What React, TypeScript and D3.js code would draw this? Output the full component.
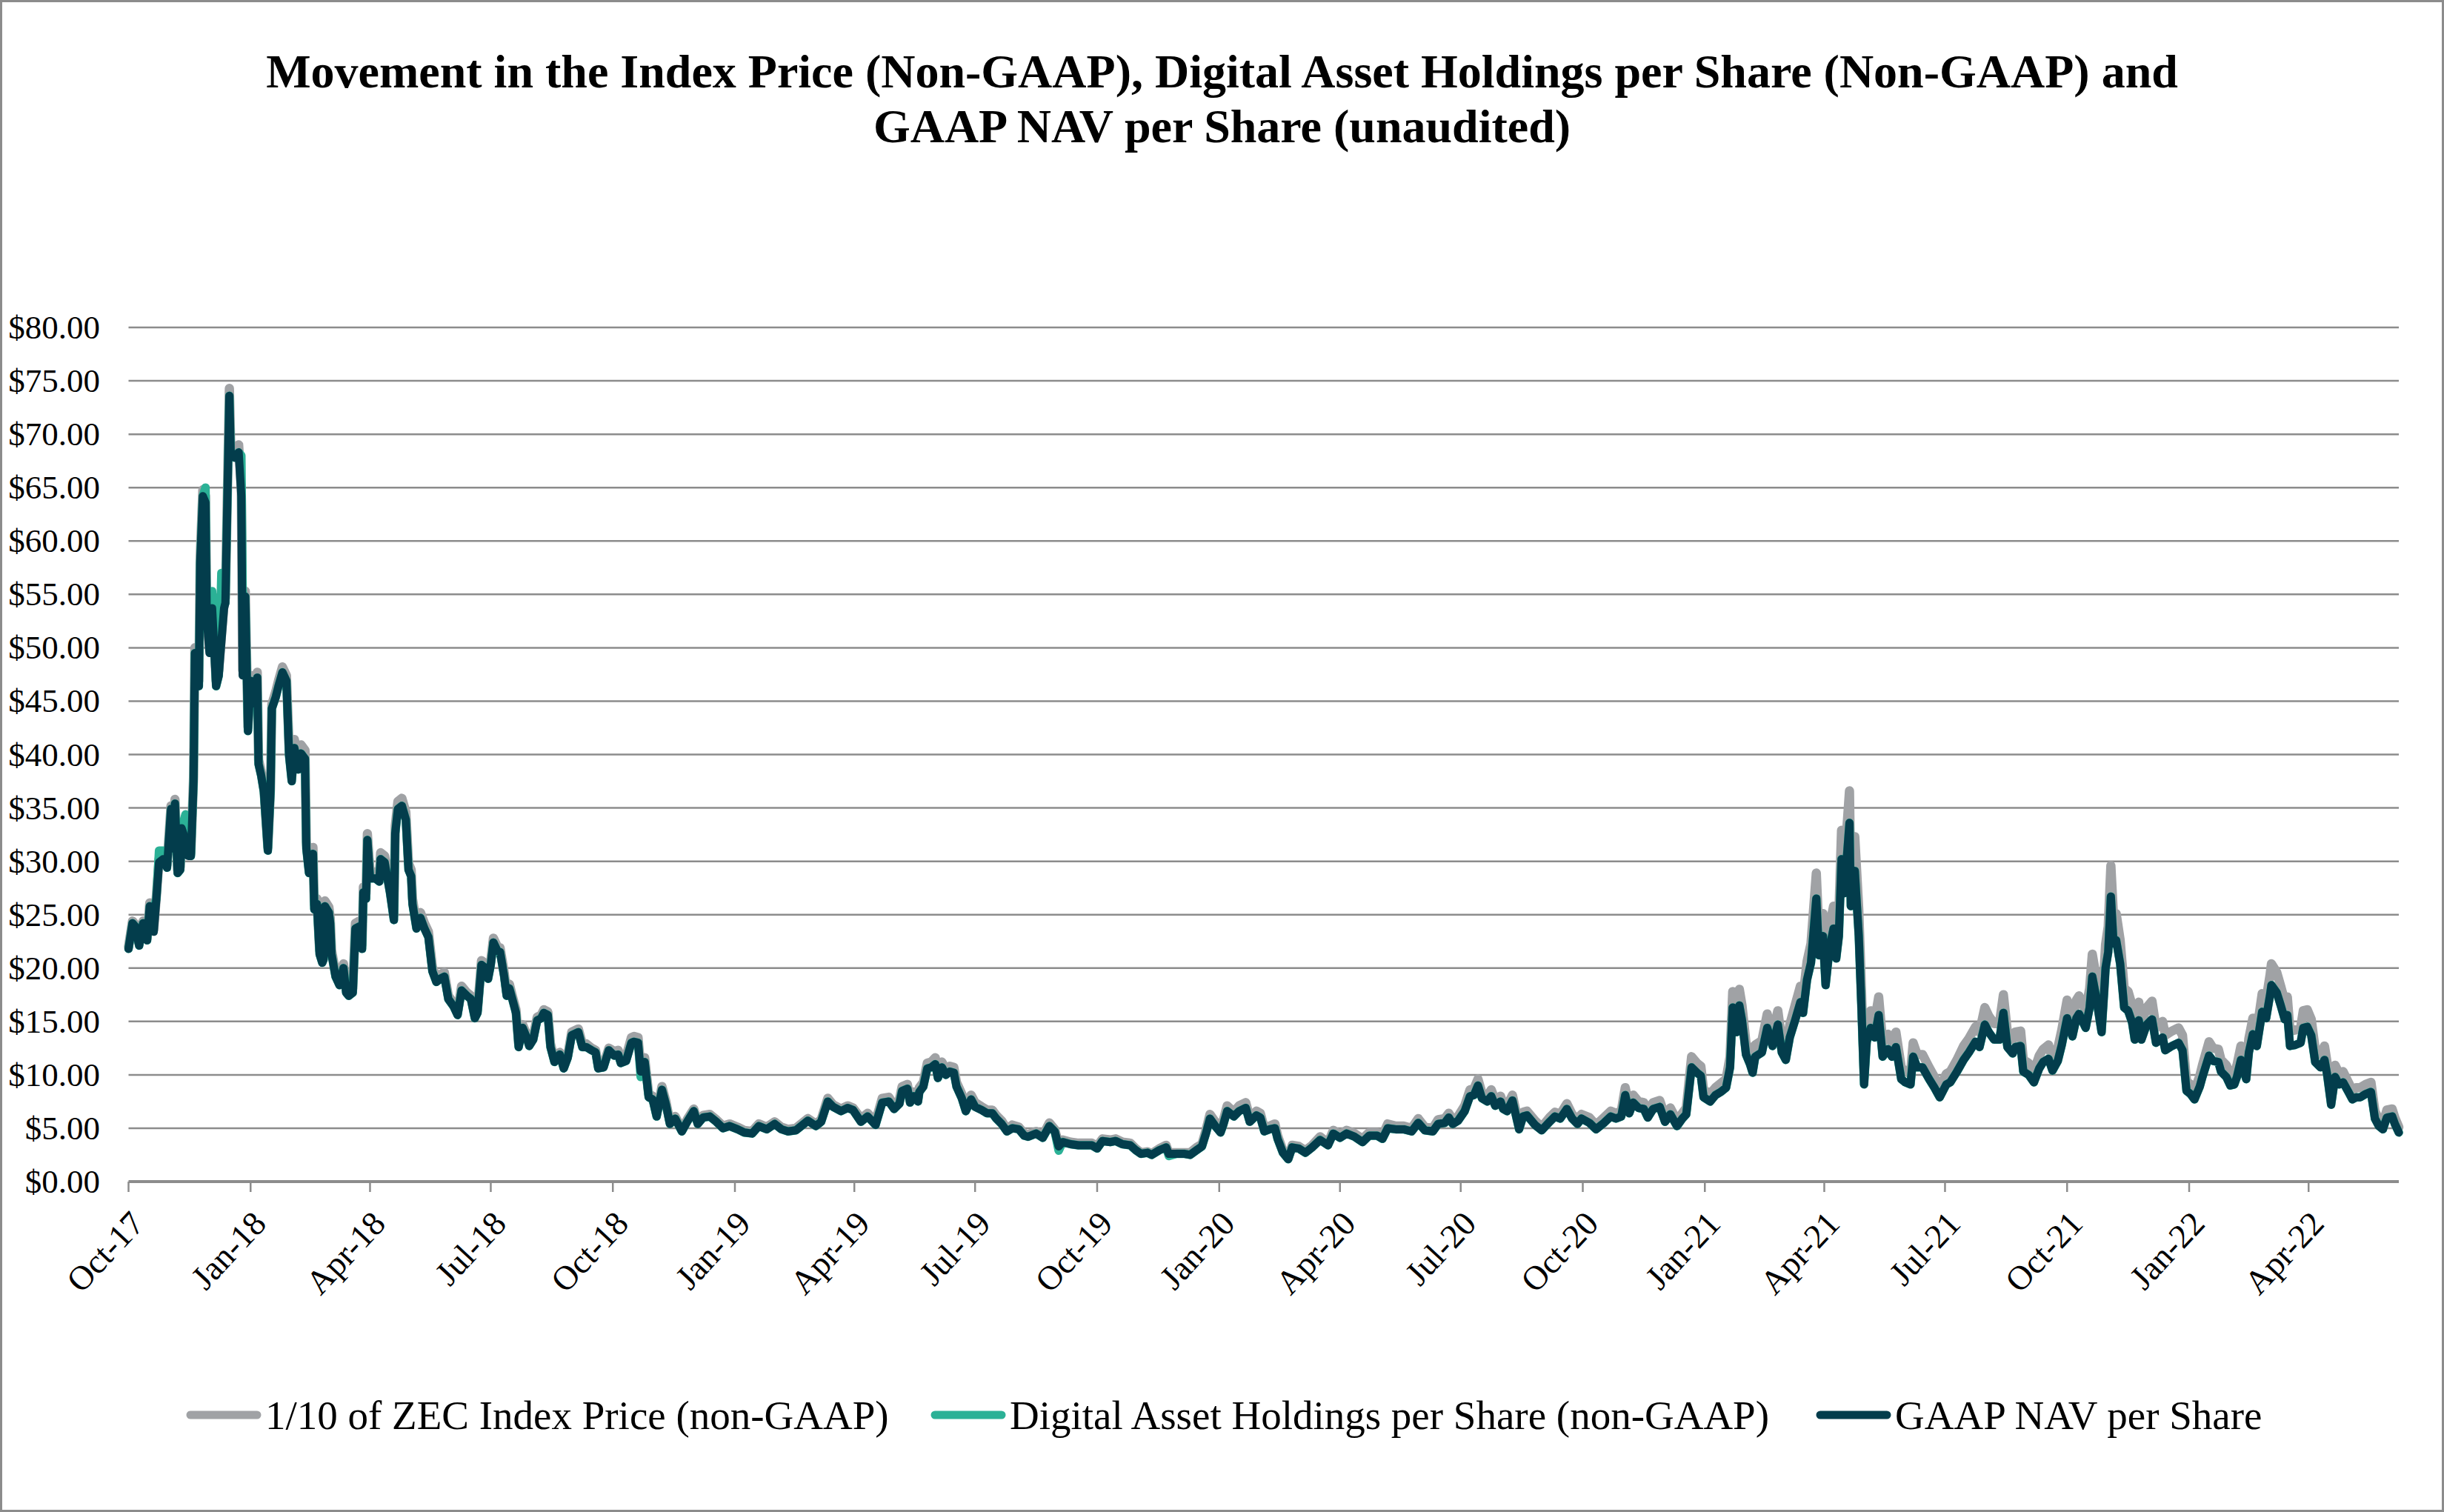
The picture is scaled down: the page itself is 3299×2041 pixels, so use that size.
import React from "react";
import * as d3 from "d3";

// ---------- DATA ----------
// Days elapsed since 2017-10-01 for each observation
const dayOffsets: number[] = [
  0,3,5,8,11,14,16,19,21,23, 26,29,30,32,33,35,37,39,40,43, 45,47,49,50,53,54,56,58,59,61,
  63,66,68,70,72,73,76,77,80,83, 85,86,88,90,92,94,97,98,100,102, 105,107,108,111,113,116,119,121,123,125,
  128,130,133,134,136,139,140,142,144,146, 147,148,151,152,153,156,159,162,164,166, 169,171,174,176,177,179,180,182,186,189,
  190,193,197,200,201,203,206,209,211,213, 214,217,220,223,226,229,232,235,238,241, 245,248,251,255,258,261,263,266,269,271,
  273,275,278,
  280,283,285,287,289,292,294,297,300,302, 305,308,311,313,316,318,321,325,328,331, 334,339,342,345,349,352,354,358,362,366,
  369,371,375,379,381,384,386,389,392,395, 398,402,405,408,412,417,421,426,429,433, 438,443,448,453,459,464,470,475,481,487,
  492,497,503,512,518,522,527,531,537,542, 546,552,557,563,
  568,573,577,581,583,587,589,592,595,596, 599,602,605,608,610,613,616,619,622,624, 628,631,635,638,643,647,651,654,658,662,
  666,671,675,678,684,689,694,698,701,704, 710,716,721,726,730,734,740,744,749,755, 759,763,768,771,777,782,784,790,796,800,
  805,809,812,815,819,823,825,828,833,837, 842,845,850,
  853,856,860,864,866,870,874,877,882,887, 892,898,904,908,913,918,924,930,935,941, 945,949,955,961,967,972,977,983,987,992,
  995,998,1002,1007,1011,1014,1017,1020,1024,1027, 1030,1034,1036,1039,1043,1048,1051,1054,1060,1065,
  1071,1075,1079,1084,1088,1092,1095,1101,1106,1112, 1117,1121,1125,1128,1131,
  1134,1138,1142,1145,1149,1154,1158,1162,1167,1171, 1174,1178,1182,1185,1187,1192,1196,1200,1204,1207,
  1209,1212,1214,1216,1219,1222,1224,1226,1231,1235, 1239,1243,1246,1249,1252,1256,1260,1262,1265,1268,
  1272,1274,1277,1279,1282,1285,1287,1289,1291,1293, 1297,1298,1301,1304,1306,1308,1310,1313,1316,1319,
  1322,1326,1329,1332,1336,1339,1343,1345,1348,1352, 1357,1361,1365,1370,1373,1378,1383,1387,1392,1395,
  1399,1402,1406,1410,1413,1416,1420,
  1422,1426,1428,1432,1436,1440,1443,1447,1450,1454, 1457,1461,1465,1468,1470,1475,1478,1480,1483,1487,
  1489,1490,1492,1494,1496,1498,1501,1504,1507,1510, 1512,1515,1517,1521,1525,1528,1533,1535,1540,1545,
  1548,1551,1554,1557,1561,1563,1568,1571,1575,1577, 1581,1584,1587,1589,1592,1596,1598,1601,1604,1608,
  1611,1614,1615,1619,1622,1625,1627,1629,1633,1637, 1639,1642,1645,1648,1652,1655,1657,1660,1663,1666,
  1669,1673,1676,1679,1682,1686,1690,1693,1696,1699, 1702,1706,1708,1711,
];

// 1/10 of ZEC Index Price (non-GAAP)
const indexPriceTenth: number[] = [
  22.0,24.4,24.1,22.3,24.4,22.8,26.1,23.6,26.8,30.2, 30.5,29.7,31.5,35.2,31.5,35.8,29.2,29.5,33.4,32.3, 30.8,30.8,37.9,50.0,46.9,58.5,64.8,64.2,53.2,50.0,
  54.2,46.9,47.9,51.1,54.2,54.7,74.3,69.0,68.5,69.0, 64.8,47.9,55.3,42.6,47.4,45.2,47.7,39.5,38.4,36.9, 31.3,36.9,44.7,45.9,46.9,48.2,47.4,40.7,38.3,41.4,
  39.4,40.9,40.4,31.8,29.5,31.3,26.0,26.5,21.7,20.9, 21.2,26.3,25.7,24.7,21.7,19.6,18.8,20.4,18.1,17.7, 18.1,24.2,24.4,22.2,27.6,27.0,32.6,29.0,29.0,28.7,
  30.8,30.5,27.6,25.0,33.3,35.6,35.9,34.6,29.8,29.2, 26.5,24.2,25.2,24.2,23.4,20.1,19.1,19.4,19.6,17.4, 16.7,15.9,18.3,17.7,17.4,15.6,16.1,20.7,20.4,19.4,
  20.7,22.8,22.0,
  21.9,19.7,17.7,18.5,17.5,16.1,12.9,14.7,13.8,13.0, 13.6,15.4,15.6,16.1,15.9,12.9,11.4,12.1,10.8,11.8, 14.0,14.3,12.9,12.9,12.5,12.3,10.8,10.9,12.5,12.2,
  12.3,11.5,11.7,13.5,13.6,13.5,10.7,11.6,8.2,8.0, 6.3,8.9,7.5,5.6,6.1,4.9,5.8,6.8,5.6,6.2, 6.3,5.8,5.2,5.4,5.1,4.8,4.7,5.4,5.1,5.6,
  5.1,4.9,5.0,5.9,5.4,5.8,7.8,7.2,6.8,7.1, 6.9,5.9,6.4,5.6,
  7.8,7.9,7.1,7.7,8.9,9.1,7.8,8.4,7.9,8.8, 9.3,11.1,11.2,11.6,10.2,11.2,10.5,10.8,10.7,9.3, 8.2,6.9,8.1,7.4,7.0,6.7,6.7,6.2,5.7,4.9,
  5.3,5.1,4.5,4.4,4.7,4.3,5.5,4.9,3.5,3.9, 3.7,3.6,3.6,3.6,3.3,4.0,3.9,4.0,3.7,3.6, 3.1,2.7,2.8,2.6,3.1,3.4,2.7,2.7,2.7,2.7,
  3.2,3.5,4.8,6.3,5.6,4.9,5.7,7.1,6.5,7.1, 7.4,6.0,6.6,
  6.4,5.0,5.2,5.4,4.3,2.9,2.2,3.4,3.3,2.9, 3.4,4.2,3.6,4.8,4.4,4.8,4.5,4.0,4.6,4.6, 4.3,5.4,5.2,5.2,5.0,5.9,5.1,5.0,5.8,5.9,
  6.4,5.8,6.1,7.1,8.6,8.7,9.6,8.3,8.0,8.6, 7.6,8.0,7.3,7.1,8.1,5.2,6.5,6.6,5.7,5.1,
  6.0,6.5,6.3,7.3,6.3,5.8,6.3,6.0,5.3,6.0, 6.6,6.4,6.6,8.8,7.0,
  8.1,7.5,7.4,6.5,7.4,7.6,6.1,6.9,5.7,6.4, 6.9,11.7,11.1,10.8,8.6,8.2,8.8,9.2,9.6,11.7,
  17.8,15.3,18.0,16.5,13.0,12.0,11.1,12.8,13.2,15.7, 13.8,16.0,13.2,12.4,14.7,16.5,18.3,17.2,20.6,22.3,
  28.9,23.1,25.1,20.1,23.9,25.8,22.8,25.1,32.9,29.4, 36.6,28.1,32.3,25.5,18.1,10.1,14.5,16.0,15.0,17.3,
  13.0,13.8,13.0,14.0,10.7,10.3,10.1,13.0,11.9,11.9, 10.7,9.8,8.8,10.1,10.3,11.4,12.7,13.4,14.5,14.0,
  16.3,15.5,14.8,14.8,17.5,14.0,13.3,
  14.0,14.1,11.4,11.1,10.3,11.8,12.4,12.8,11.5,12.5, 14.2,17.0,15.1,17.0,17.4,16.0,18.1,21.3,19.1,15.5,
  19.9,22.2,23.9,29.6,24.8,25.1,22.6,18.1,17.8,16.5, 14.8,16.8,14.8,16.3,16.9,14.4,15.0,13.7,14.1,14.4,
  13.7,9.4,9.1,8.5,9.9,10.9,13.1,12.5,12.4,11.4, 10.9,10.0,10.1,10.9,12.7,10.7,13.4,15.3,14.1,17.6,
  17.0,19.4,20.4,19.6,18.3,16.9,17.3,14.1,14.2,14.4, 16.0,16.1,15.2,12.4,11.9,12.7,11.1,8.0,10.9,10.1,
  10.3,9.3,8.5,8.8,8.8,9.1,9.3,6.6,5.8,5.4, 6.7,6.8,6.0,5.1,
];

// Digital Asset Holdings per Share (non-GAAP)
const holdingsPerShare: number[] = [
  21.8,24.2,23.9,22.1,24.2,22.6,25.8,25.5,26.5,31.0, 31.0,29.4,31.2,34.9,31.2,35.4,28.9,29.2,33.1,34.4, 33.5,30.5,37.5,49.5,46.4,57.9,64.2,65.0,52.7,54.5,
  55.3,46.4,47.4,57.0,57.0,54.2,73.6,68.3,67.8,68.3, 68.0,55.0,54.8,42.2,46.9,44.8,47.2,39.1,38.0,36.5, 31.0,36.5,44.3,45.4,46.4,47.7,46.9,39.9,37.5,40.6,
  38.6,40.1,39.6,31.2,28.9,30.7,25.5,26.0,21.3,20.5, 20.8,25.8,25.2,24.2,21.3,19.2,18.4,20.0,17.7,17.4, 17.7,23.7,23.9,21.8,27.1,26.5,32.0,28.4,28.4,28.1,
  30.2,29.9,27.1,24.5,32.6,34.9,35.2,33.9,29.2,28.6, 26.0,23.7,24.7,23.7,22.9,19.7,18.7,19.0,19.2,17.1, 16.4,15.6,17.9,17.4,17.1,15.3,15.8,20.3,20.0,19.0,
  20.3,22.4,21.6,
  21.5,19.3,17.4,18.1,17.2,15.8,12.6,14.4,13.5,12.7, 13.3,15.1,15.3,15.8,15.6,12.6,11.2,11.9,10.6,11.6, 13.7,14.0,12.6,12.6,12.3,12.1,10.6,10.7,12.3,11.8,
  11.9,11.1,11.3,13.0,13.1,13.0,9.8,11.2,7.9,7.7, 6.1,8.6,7.2,5.4,5.9,4.7,5.6,6.6,5.4,6.0, 6.1,5.6,5.0,5.2,4.9,4.6,4.5,5.2,4.9,5.4,
  4.9,4.7,4.8,5.7,5.2,5.6,7.5,7.0,6.6,6.9, 6.7,5.6,6.1,5.3,
  7.4,7.5,6.8,7.3,8.5,8.7,7.4,8.0,7.5,8.4, 8.9,10.6,10.7,11.0,9.7,10.7,10.0,10.3,10.2,8.9, 7.8,6.6,7.7,7.0,6.7,6.4,6.4,5.9,5.4,4.7,
  5.0,4.9,4.3,4.2,4.5,4.1,5.2,4.7,2.9,3.7, 3.5,3.4,3.4,3.4,3.1,3.8,3.7,3.8,3.5,3.4, 2.95,2.6,2.7,2.5,2.95,3.2,2.4,2.6,2.6,2.5,
  2.95,3.3,4.5,5.9,5.2,4.6,5.3,6.6,6.1,6.6, 6.9,5.6,6.2,
  6.0,4.7,4.9,5.0,4.0,2.7,2.1,3.2,3.1,2.7, 3.2,3.9,3.4,4.5,4.1,4.5,4.2,3.7,4.3,4.3, 4.0,5.0,4.9,4.9,4.7,5.5,4.8,4.7,5.4,5.5,
  6.0,5.4,5.7,6.6,8.0,8.1,9.0,7.8,7.5,8.0, 7.1,7.5,6.8,6.6,7.6,4.9,6.1,6.2,5.3,4.8,
  5.6,6.1,5.9,6.8,5.9,5.4,5.9,5.5,4.9,5.5, 6.1,5.9,6.1,8.1,6.4,
  7.4,6.9,6.8,6.0,6.8,7.0,5.6,6.3,5.2,5.9, 6.3,10.7,10.2,9.9,7.9,7.5,8.1,8.4,8.8,10.7,
  16.3,14.0,16.5,15.1,11.9,11.0,10.2,11.7,12.1,14.4, 12.7,14.7,12.1,11.4,13.5,15.1,16.8,15.8,18.9,20.5,
  26.5,21.2,23.0,18.4,21.9,23.7,20.9,23.0,30.2,27.0, 33.6,25.8,29.1,23.0,16.3,9.1,13.1,14.4,13.5,15.6,
  11.7,12.4,11.7,12.6,9.6,9.3,9.1,11.7,10.7,10.7, 9.6,8.8,7.9,9.1,9.3,10.3,11.4,12.1,13.1,12.6,
  14.7,14.0,13.3,13.3,15.8,12.6,12.0,
  12.6,12.7,10.3,10.0,9.3,10.6,11.2,11.5,10.4,11.3, 12.8,15.3,13.6,15.3,15.7,14.4,16.3,19.2,17.2,14.0,
  17.9,20.0,21.5,26.7,22.3,22.6,20.4,16.3,16.0,14.9, 13.3,15.1,13.3,14.7,15.2,13.0,13.5,12.3,12.7,13.0,
  12.3,8.5,8.2,7.7,8.9,9.8,11.8,11.3,11.2,10.3, 9.8,9.0,9.1,9.8,11.4,9.6,12.1,13.8,12.7,15.9,
  15.3,17.5,18.4,17.7,16.5,15.2,15.6,12.7,12.8,13.0, 14.4,14.5,13.7,11.2,10.7,11.4,10.0,7.2,9.8,9.1,
  9.3,8.4,7.7,7.9,7.9,8.2,8.4,5.9,5.2,4.9, 6.0,6.1,5.4,4.6,
];

// GAAP NAV per Share
const gaapNavPerShare: number[] = [
  21.8,24.2,23.9,22.1,24.2,22.6,25.8,23.4,26.5,29.9, 30.2,29.4,31.2,34.9,31.2,35.4,28.9,29.2,33.1,32.0, 30.5,30.5,37.5,49.5,46.4,57.9,64.2,63.6,52.7,49.5,
  53.7,46.4,47.4,50.6,53.7,54.2,73.6,68.3,67.8,68.3, 64.2,47.4,54.8,42.2,46.9,44.8,47.2,39.1,38.0,36.5, 31.0,36.5,44.3,45.4,46.4,47.7,46.9,39.9,37.5,40.6,
  38.6,40.1,39.6,31.2,28.9,30.7,25.5,26.0,21.3,20.5, 20.8,25.8,25.2,24.2,21.3,19.2,18.4,20.0,17.7,17.4, 17.7,23.7,23.9,21.8,27.1,26.5,32.0,28.4,28.4,28.1,
  30.2,29.9,27.1,24.5,32.6,34.9,35.2,33.9,29.2,28.6, 26.0,23.7,24.7,23.7,22.9,19.7,18.7,19.0,19.2,17.1, 16.4,15.6,17.9,17.4,17.1,15.3,15.8,20.3,20.0,19.0,
  20.3,22.4,21.6,
  21.5,19.3,17.4,18.1,17.2,15.8,12.6,14.4,13.5,12.7, 13.3,15.1,15.3,15.8,15.6,12.6,11.2,11.9,10.6,11.6, 13.7,14.0,12.6,12.6,12.3,12.1,10.6,10.7,12.3,11.8,
  11.9,11.1,11.3,13.0,13.1,13.0,10.3,11.2,7.9,7.7, 6.1,8.6,7.2,5.4,5.9,4.7,5.6,6.6,5.4,6.0, 6.1,5.6,5.0,5.2,4.9,4.6,4.5,5.2,4.9,5.4,
  4.9,4.7,4.8,5.7,5.2,5.6,7.5,7.0,6.6,6.9, 6.7,5.6,6.1,5.3,
  7.4,7.5,6.8,7.3,8.5,8.7,7.4,8.0,7.5,8.4, 8.9,10.6,10.7,11.0,9.7,10.7,10.0,10.3,10.2,8.9, 7.8,6.6,7.7,7.0,6.7,6.4,6.4,5.9,5.4,4.7,
  5.0,4.9,4.3,4.2,4.5,4.1,5.2,4.7,3.3,3.7, 3.5,3.4,3.4,3.4,3.1,3.8,3.7,3.8,3.5,3.4, 2.95,2.6,2.7,2.5,2.95,3.2,2.6,2.6,2.6,2.5,
  2.95,3.3,4.5,5.9,5.2,4.6,5.3,6.6,6.1,6.6, 6.9,5.6,6.2,
  6.0,4.7,4.9,5.0,4.0,2.7,2.1,3.2,3.1,2.7, 3.2,3.9,3.4,4.5,4.1,4.5,4.2,3.7,4.3,4.3, 4.0,5.0,4.9,4.9,4.7,5.5,4.8,4.7,5.4,5.5,
  6.0,5.4,5.7,6.6,8.0,8.1,9.0,7.8,7.5,8.0, 7.1,7.5,6.8,6.6,7.6,4.9,6.1,6.2,5.3,4.8,
  5.6,6.1,5.9,6.8,5.9,5.4,5.9,5.5,4.9,5.5, 6.1,5.9,6.1,8.1,6.4,
  7.4,6.9,6.8,6.0,6.8,7.0,5.6,6.3,5.2,5.9, 6.3,10.7,10.2,9.9,7.9,7.5,8.1,8.4,8.8,10.7,
  16.3,14.0,16.5,15.1,11.9,11.0,10.2,11.7,12.1,14.4, 12.7,14.7,12.1,11.4,13.5,15.1,16.8,15.8,18.9,20.5,
  26.5,21.2,23.0,18.4,21.9,23.7,20.9,23.0,30.2,27.0, 33.6,25.8,29.1,23.0,16.3,9.1,13.1,14.4,13.5,15.6,
  11.7,12.4,11.7,12.6,9.6,9.3,9.1,11.7,10.7,10.7, 9.6,8.8,7.9,9.1,9.3,10.3,11.4,12.1,13.1,12.6,
  14.7,14.0,13.3,13.3,15.8,12.6,12.0,
  12.6,12.7,10.3,10.0,9.3,10.6,11.2,11.5,10.4,11.3, 12.8,15.3,13.6,15.3,15.7,14.4,16.3,19.2,17.2,14.0,
  17.9,20.0,21.5,26.7,22.3,22.6,20.4,16.3,16.0,14.9, 13.3,15.1,13.3,14.7,15.2,13.0,13.5,12.3,12.7,13.0,
  12.3,8.5,8.2,7.7,8.9,9.8,11.8,11.3,11.2,10.3, 9.8,9.0,9.1,9.8,11.4,9.6,12.1,13.8,12.7,15.9,
  15.3,17.5,18.4,17.7,16.5,15.2,15.6,12.7,12.8,13.0, 14.4,14.5,13.7,11.2,10.7,11.4,10.0,7.2,9.8,9.1,
  9.3,8.4,7.7,7.9,7.9,8.2,8.4,5.9,5.2,4.9, 6.0,6.1,5.4,4.6,
];

const yTickValues: number[] = [0, 5, 10, 15, 20, 25, 30, 35, 40, 45, 50, 55, 60, 65, 70, 75, 80];
const xTickDates: string[] = [
  "2017-10-01", "2018-01-01", "2018-04-01", "2018-07-01", "2018-10-01", "2019-01-01", "2019-04-01",
  "2019-07-01", "2019-10-01", "2020-01-01", "2020-04-01", "2020-07-01", "2020-10-01", "2021-01-01",
  "2021-04-01", "2021-07-01", "2021-10-01", "2022-01-01", "2022-04-01",
];
const xTickLabels: string[] = [
  "Oct-17", "Jan-18", "Apr-18", "Jul-18", "Oct-18", "Jan-19", "Apr-19", "Jul-19", "Oct-19", "Jan-20",
  "Apr-20", "Jul-20", "Oct-20", "Jan-21", "Apr-21", "Jul-21", "Oct-21", "Jan-22", "Apr-22",
];
const seriesNames: string[] = [
  "1/10 of ZEC Index Price (non-GAAP)",
  "Digital Asset Holdings per Share (non-GAAP)",
  "GAAP NAV per Share",
];
const titleLines: string[] = [
  "Movement in the Index Price (Non-GAAP), Digital Asset Holdings per Share (Non-GAAP) and",
  "GAAP NAV per Share (unaudited)",
];

// ---------- STYLE / LAYOUT ----------
const W = 3299;
const H = 2041;
const FONT = "'Liberation Serif', 'Times New Roman', serif";
const COLORS = ["#A0A2A5", "#2BB196", "#033D4C"];
const STROKES = [12.5, 11.5, 11];
const GRID = "#8C8C8C";
const START_UTC = Date.UTC(2017, 9, 1);
const DAY_MS = 86400000;
const END_DAY = 1711;

export default function App() {
  const x = d3
    .scaleUtc()
    .domain([new Date(START_UTC), new Date(START_UTC + END_DAY * DAY_MS)])
    .range([173.5, 3238]);
  const y = d3.scaleLinear().domain([0, 80]).range([1595, 442]);

  const dates = dayOffsets.map((d) => new Date(START_UTC + d * DAY_MS));
  const series = [indexPriceTenth, holdingsPerShare, gaapNavPerShare];
  const lineGen = d3
    .line<number>()
    .x((_, i) => x(dates[i]))
    .y((v) => y(v))
    .curve(d3.curveLinear);

  const [x0, x1] = x.range();
  const yFmt = (v: number) => "$" + v.toFixed(2);

  const legendItems = [
    { swatch: 257, text: 358 },
    { swatch: 1262, text: 1363 },
    { swatch: 2457, text: 2558 },
  ];
  const legendY = 1910;

  return (
    <svg
      width={W}
      height={H}
      viewBox={`0 0 ${W} ${H}`}
      style={{ position: "absolute", left: 0, top: 0, display: "block", background: "#fff" }}
      fontFamily={FONT}
    >
      <rect x={1.5} y={1.5} width={W - 3} height={H - 3} fill="#fff" stroke={GRID} strokeWidth={3} />

      <text textAnchor="middle" fontSize={64} fontWeight="bold" fill="#000">
        {titleLines.map((t, i) => (
          <tspan key={i} x={W / 2} y={118 + i * 74}>
            {t}
          </tspan>
        ))}
      </text>

      {/* gridlines */}
      {yTickValues.map((v) => (
        <line
          key={"g" + v}
          x1={x0}
          x2={x1}
          y1={y(v)}
          y2={y(v)}
          stroke={GRID}
          strokeWidth={v === 0 ? 4 : 2.5}
        />
      ))}
      {/* y labels */}
      {yTickValues.map((v) => (
        <text
          key={"yl" + v}
          x={135}
          y={y(v)}
          textAnchor="end"
          dominantBaseline="central"
          fontSize={45}
          fill="#000"
        >
          {yFmt(v)}
        </text>
      ))}
      {/* x ticks + labels */}
      {xTickDates.map((ds, i) => {
        const xv = x(new Date(ds + "T00:00:00Z"));
        return (
          <g key={"xt" + i}>
            <line x1={xv} x2={xv} y1={y(0)} y2={y(0) + 14} stroke={GRID} strokeWidth={2.5} />
            <text
              transform={`translate(${xv + 12},${y(0) + 48}) rotate(-47)`}
              textAnchor="end"
              dominantBaseline="central"
              fontSize={46}
              fill="#000"
            >
              {xTickLabels[i]}
            </text>
          </g>
        );
      })}

      {/* series */}
      {series.map((s, i) => (
        <path
          key={"s" + i}
          d={lineGen(s) || ""}
          fill="none"
          stroke={COLORS[i]}
          strokeWidth={STROKES[i]}
          strokeLinejoin="round"
          strokeLinecap="round"
        />
      ))}

      {/* legend */}
      {seriesNames.map((name, i) => (
        <g key={"lg" + i}>
          <line
            x1={legendItems[i].swatch}
            x2={legendItems[i].swatch + 90}
            y1={legendY}
            y2={legendY}
            stroke={COLORS[i]}
            strokeWidth={11}
            strokeLinecap="round"
          />
          <text
            x={legendItems[i].text}
            y={legendY}
            dominantBaseline="central"
            fontSize={55}
            fill="#000"
          >
            {name}
          </text>
        </g>
      ))}
    </svg>
  );
}
